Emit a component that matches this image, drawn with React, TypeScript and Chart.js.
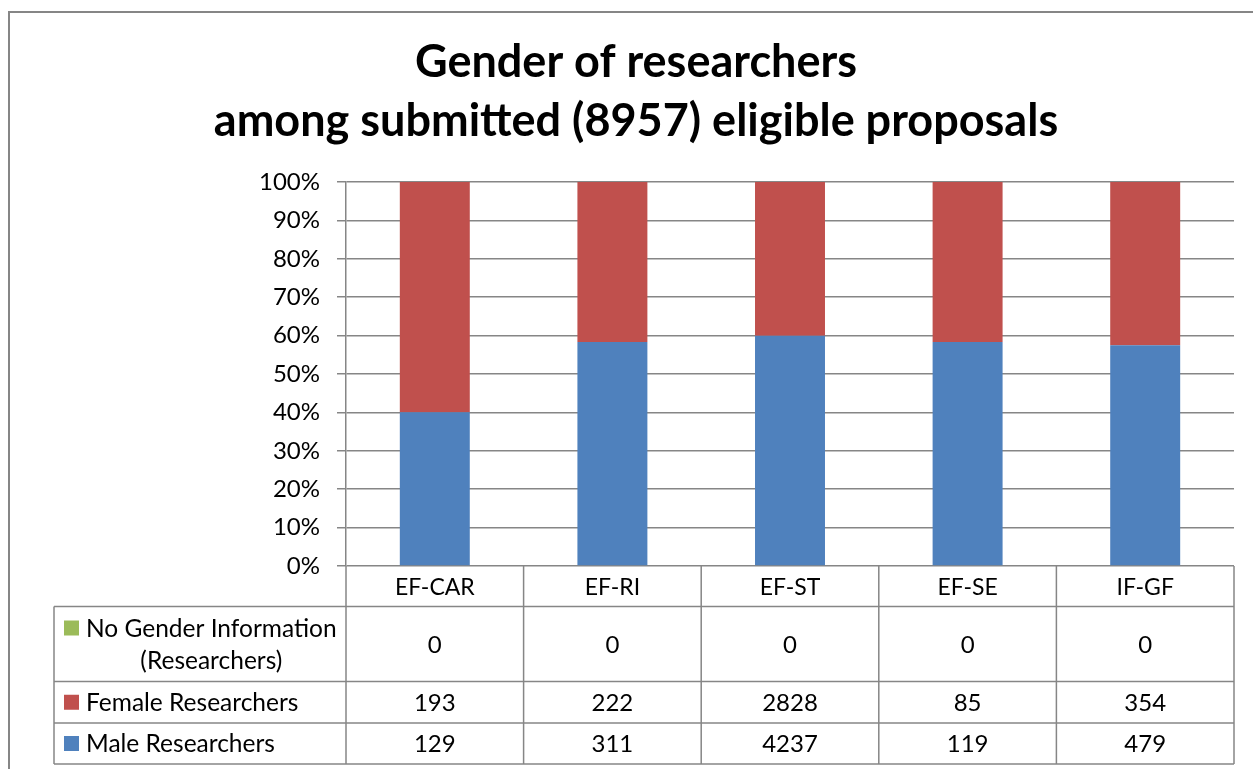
import React, { useEffect, useRef } from 'react';
import { Chart, registerables } from 'chart.js';

Chart.register(...registerables);

// ---- Data ----
const categories = ['EF-CAR', 'EF-RI', 'EF-ST', 'EF-SE', 'IF-GF'];
const maleResearchers = [129, 311, 4237, 119, 479];
const femaleResearchers = [193, 222, 2828, 85, 354];
const noGenderInfo = [0, 0, 0, 0, 0];
const yTickValues = [0, 10, 20, 30, 40, 50, 60, 70, 80, 90, 100];
const titleLines = ['Gender of researchers', 'among submitted (8957) eligible proposals'];

const seriesMale = 'Male Researchers';
const seriesFemale = 'Female Researchers';
const seriesNoGender = ['No Gender Information', '(Researchers)'];

const COLOR_MALE = '#4F81BD';
const COLOR_FEMALE = '#C0504D';
const COLOR_NOGENDER = '#9BBB59';
const GRID = '#868686';
const FONT = 'Lato';

const totals = categories.map((_, i) => maleResearchers[i] + femaleResearchers[i] + noGenderInfo[i]);
const pct = (arr: number[]) => arr.map((v, i) => (totals[i] ? (v / totals[i]) * 100 : 0));

// table rows (top to bottom)
const tableRows = [
  { label: seriesNoGender, color: COLOR_NOGENDER, values: noGenderInfo, height: 75 },
  { label: [seriesFemale], color: COLOR_FEMALE, values: femaleResearchers, height: 41.5 },
  { label: [seriesMale], color: COLOR_MALE, values: maleResearchers, height: 41 },
];
const HEADER_H = 40.5;
const TABLE_LEFT = 54;

const framePlugin = {
  id: 'frame',
  beforeDraw(chart: any) {
    const ctx = chart.ctx;
    ctx.save();
    ctx.fillStyle = '#ffffff';
    ctx.fillRect(0, 0, chart.width, chart.height);
    ctx.strokeStyle = GRID;
    ctx.lineWidth = 2;
    ctx.strokeRect(9, 12, chart.width + 20, chart.height + 20);
    ctx.restore();
  },
};

const tablePlugin = {
  id: 'dataTable',
  afterDraw(chart: any) {
    const { ctx, chartArea } = chart;
    const xs = chart.scales.x;
    const n = categories.length;
    const colW = (chartArea.right - chartArea.left) / n;
    const top = chartArea.bottom;
    const right = chartArea.right;
    const headerBottom = top + HEADER_H;
    let tableBottom = headerBottom;
    tableRows.forEach((r) => (tableBottom += r.height));

    ctx.save();
    ctx.strokeStyle = GRID;
    ctx.lineWidth = 1.5;
    ctx.beginPath();
    // horizontal lines
    let y = headerBottom;
    ctx.moveTo(TABLE_LEFT, y);
    ctx.lineTo(right, y);
    tableRows.forEach((r) => {
      y += r.height;
      ctx.moveTo(TABLE_LEFT, y);
      ctx.lineTo(right, y);
    });
    // vertical lines
    ctx.moveTo(TABLE_LEFT, headerBottom);
    ctx.lineTo(TABLE_LEFT, tableBottom);
    for (let i = 0; i <= n; i++) {
      const cx = i < n ? xs.getPixelForValue(i) - colW / 2 : xs.getPixelForValue(n - 1) + colW / 2;
      ctx.moveTo(cx, top);
      ctx.lineTo(cx, tableBottom);
    }
    ctx.stroke();

    ctx.fillStyle = '#000';
    ctx.textBaseline = 'middle';
    ctx.font = `23px ${FONT}`;
    ctx.textAlign = 'center';
    // header labels
    categories.forEach((c, i) => {
      ctx.fillText(c, xs.getPixelForValue(i), top + HEADER_H / 2 + 1);
    });
    // rows
    let rowTop = headerBottom;
    tableRows.forEach((r) => {
      const cy = rowTop + r.height / 2;
      ctx.font = `24px ${FONT}`;
      r.values.forEach((v, i) => {
        ctx.textAlign = 'center';
        ctx.fillText(String(v), xs.getPixelForValue(i), cy + 1);
      });
      ctx.font = `24.5px ${FONT}`;
      const keyX = TABLE_LEFT + 10;
      const textX = keyX + 22;
      const lineH = 32;
      const firstY = cy - ((r.label.length - 1) * lineH) / 2;
      ctx.fillStyle = r.color;
      ctx.fillRect(keyX, firstY - 7.5, 15, 15);
      ctx.fillStyle = '#000';
      const w0 = ctx.measureText(r.label[0]).width;
      r.label.forEach((t, li) => {
        if (li === 0) {
          ctx.textAlign = 'left';
          ctx.fillText(t, textX, firstY + 1);
        } else {
          ctx.textAlign = 'center';
          ctx.fillText(t, textX + w0 / 2, firstY + li * lineH + 1);
        }
      });
      rowTop += r.height;
    });
    ctx.restore();
  },
};

export default function App() {
  const canvasRef = useRef<HTMLCanvasElement | null>(null);

  useEffect(() => {
    const canvas = canvasRef.current;
    if (!canvas) return;
    const chart = new Chart(canvas, {
      type: 'bar',
      data: {
        labels: categories,
        datasets: [
          { label: seriesMale, data: pct(maleResearchers), backgroundColor: COLOR_MALE, stack: 's' },
          { label: seriesFemale, data: pct(femaleResearchers), backgroundColor: COLOR_FEMALE, stack: 's' },
          { label: seriesNoGender.join(' '), data: pct(noGenderInfo), backgroundColor: COLOR_NOGENDER, stack: 's' },
        ],
      },
      options: {
        responsive: false,
        animation: false,
        events: [],
        layout: { padding: { left: 38, right: 19, top: 0, bottom: 5 } },
        datasets: { bar: { categoryPercentage: 1, barPercentage: 0.394 } },
        plugins: {
          legend: { display: false },
          tooltip: { enabled: false },
          title: {
            display: true,
            text: titleLines,
            color: '#000',
            font: { family: FONT, size: 45, weight: 'bold', lineHeight: 59 / 45 },
            padding: { top: 33, bottom: 31 },
          },
        },
        scales: {
          x: {
            stacked: true,
            ticks: { display: false },
            grid: { display: false },
            border: { display: false },
            afterFit: (scale: any) => {
              scale.height = 198;
            },
          },
          y: {
            stacked: true,
            min: 0,
            max: 100,
            afterBuildTicks: (scale: any) => {
              scale.ticks = yTickValues.map((v) => ({ value: v }));
            },
            ticks: {
              color: '#000',
              font: { family: FONT, size: 24 },
              padding: 17,
              callback: (v: any) => `${v}%`,
            },
            grid: { color: GRID, lineWidth: 1.5, tickLength: 9 },
            border: { display: true, color: GRID, width: 1.5 },
            afterFit: (scale: any) => {
              scale.width = 308;
            },
          },
        },
      },
      plugins: [framePlugin, tablePlugin],
    });
    return () => chart.destroy();
  }, []);

  return (
    <div style={{ position: 'absolute', left: 0, top: 0, width: 1253, height: 769, background: '#fff' }}>
      <canvas ref={canvasRef} width={1253} height={769} style={{ display: 'block' }} />
    </div>
  );
}
